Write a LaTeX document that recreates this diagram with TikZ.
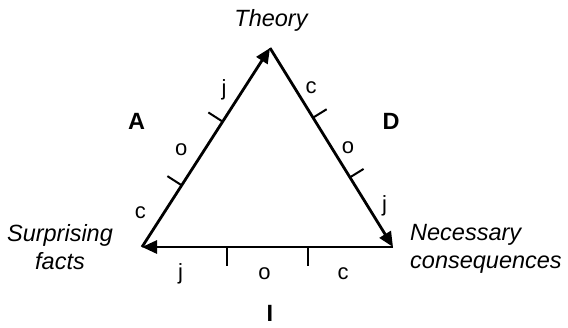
\documentclass[tikz,border=0pt]{standalone}
\usepackage{fontspec}
\setmainfont{Liberation Sans}
\usetikzlibrary{arrows.meta,calc}
\begin{document}
\begin{tikzpicture}[x=1pt,y=-1pt,
  side/.style={line width=2.8pt,-{Triangle[length=15pt,width=13pt]}},
  tick/.style={line width=2pt},
  lbl/.style={font=\fontsize{23.5}{28}\selectfont\itshape,inner sep=0pt},
  letter/.style={font=\fontsize{22}{26}\selectfont,inner sep=0pt,anchor=base},
  big/.style={font=\fontsize{23.5}{28}\selectfont\bfseries,inner sep=0pt,anchor=base}]
\useasboundingbox (0,0) rectangle (568,327);
% vertices
\coordinate (T) at (270,48);
\coordinate (L) at (142,247);
\coordinate (R) at (393,247);
% sides
\draw[side] (L) -- (T);
\draw[side] (T) -- (R);
\draw[side] (R) -- (L);
% tick positions
\path (L) -- (T) coordinate[pos=0.31] (l1) coordinate[pos=0.63] (l2);
\path (T) -- (R) coordinate[pos=0.35] (r1) coordinate[pos=0.65] (r2);
\path (R) -- (L) coordinate[pos=0.337] (b1) coordinate[pos=0.6625] (b2);
\draw[tick] (l1) -- ($(l1)!17pt!90:(T)$);
\draw[tick] (l2) -- ($(l2)!17pt!90:(T)$);
\draw[tick] (r1) -- ($(r1)!16pt!90:(R)$);
\draw[tick] (r2) -- ($(r2)!16pt!90:(R)$);
\draw[tick] (b1) -- ($(b1)!19pt!90:(L)$);
\draw[tick] (b2) -- ($(b2)!19pt!90:(L)$);
% vertex labels
\node[lbl,anchor=base] (theory) at (271,26) {Theory};
\node[lbl,anchor=north,align=center] (surp) at (60,224.5) {Surprising\\facts};
\node[lbl,anchor=north west,align=left] (nec) at (410,224) {Necessary\\consequences};
% side names
\node[big] (A) at (136.7,129.3) {A};
\node[big] (D) at (391,129.3) {D};
\node[big] (I) at (270,321) {I};
% letters left side
\node[letter] (lj) at (224,95) {j};
\node[letter] (lo) at (181.2,155) {o};
\node[letter] (lc) at (140.3,218.3) {c};
% letters right side
\node[letter] (rc) at (311,93.3) {c};
\node[letter] (ro) at (348,153.3) {o};
\node[letter] (rj) at (384.5,211.5) {j};
% letters bottom
\node[letter] (bj) at (180.5,279.5) {j};
\node[letter] (bo) at (264.5,279.5) {o};
\node[letter] (bc) at (343,279.5) {c};
\end{tikzpicture}
\end{document}
